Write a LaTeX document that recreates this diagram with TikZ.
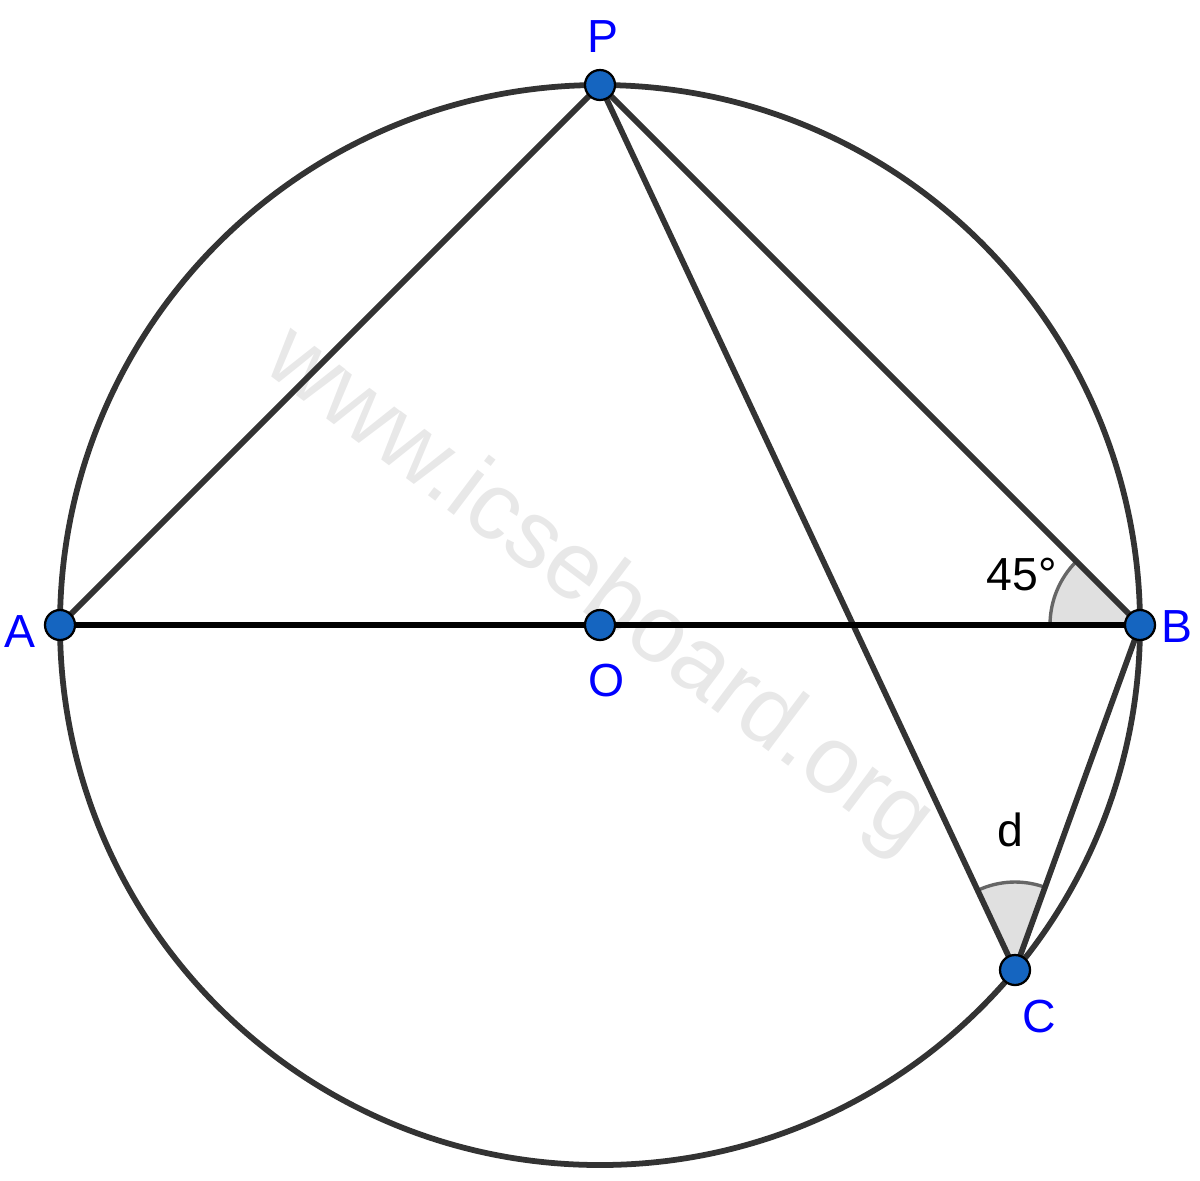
\documentclass[tikz,border=0pt]{standalone}
\usepackage{fontspec}
\setmainfont{Liberation Sans}
\begin{document}
\begin{tikzpicture}[x=0.025cm,y=-0.025cm,
  edge/.style={draw=black!80, line width=4.1pt},
  pt/.style={circle, fill={rgb,255:red,21;green,101;blue,192}, draw=black, line width=1.6pt, minimum size=30*0.025cm, inner sep=0pt},
  lbl/.style={text={rgb,255:red,0;green,0;blue,255}, font=\fontsize{33}{36}\selectfont, inner sep=0pt},
  anglbl/.style={text=black, font=\fontsize{33}{36}\selectfont, inner sep=0pt},
  angfill/.style={fill=black!12, draw=none},
  angarc/.style={draw=black!60, line width=2.4pt}]
\useasboundingbox (0,0) rectangle (1200,1180);
% watermark
\node[rotate=-37, text=black!9, font=\fontsize{68}{70}\selectfont, inner sep=0pt] (wm) at (598,592) {www.icseboard.org};
% coordinates
\coordinate (Oc) at (600,625);
\coordinate (Ac) at (60,625);
\coordinate (Bc) at (1140,625);
\coordinate (Pc) at (600,85);
\coordinate (Cc) at (1015,970);
% angle sectors (y axis flipped: angles measured clockwise on screen)
\fill[angfill] (Bc) -- ++(180:90) arc[start angle=180, end angle=225, radius=90] -- cycle;
\draw[angarc] (Bc) ++(180:90) arc[start angle=180, end angle=225, radius=90];
\fill[angfill] (Cc) -- ++(244.9:88) arc[start angle=244.9, end angle=289.9, radius=88] -- cycle;
\draw[angarc] (Cc) ++(244.9:88) arc[start angle=244.9, end angle=289.9, radius=88];
% circle
\draw[edge] (Oc) circle[radius=540];
% segments
\draw[edge] (Ac) -- (Pc);
\draw[edge] (Pc) -- (Bc);
\draw[edge] (Pc) -- (Cc);
\draw[edge] (Bc) -- (Cc);
\draw[edge, draw=black] (Ac) -- (Bc);
% points
\node[pt] (A) at (Ac) {};
\node[pt] (B) at (Bc) {};
\node[pt] (P) at (Pc) {};
\node[pt] (O) at (Oc) {};
\node[pt] (C) at (Cc) {};
% labels
\node[lbl] (lP) at (603,37) {P};
\node[lbl] (lA) at (20,632) {A};
\node[lbl] (lB) at (1177,627) {B};
\node[lbl] (lO) at (607,681) {O};
\node[lbl] (lC) at (1039,1016) {C};
\node[anglbl] (l45) at (1022,575) {45°};
\node[anglbl] (ld) at (1010,830) {d};
\end{tikzpicture}
\end{document}
